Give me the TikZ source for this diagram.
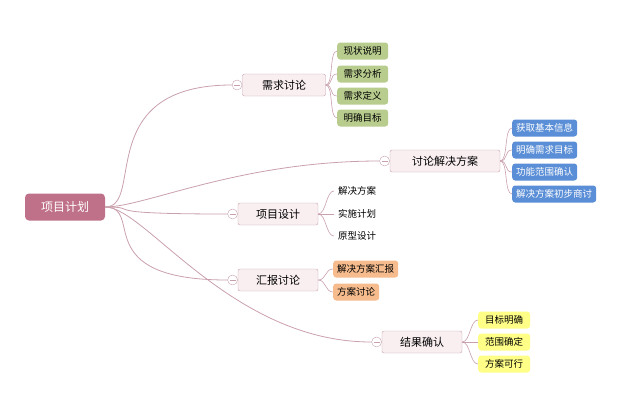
\documentclass[tikz,border=0pt]{standalone}
\usepackage{fontspec}
\usetikzlibrary{positioning,calc}
\newfontfamily\cjk{Noto Sans CJK SC}
\begin{document}
\begin{tikzpicture}[x=1pt,y=-1pt,
 line/.style={draw=lnk,line width=0.8pt},
 rootbox/.style={fill=rootc,rounded corners=4pt,minimum width=80pt,minimum height=27pt,text=white,font=\cjk\fontsize{12}{13}\selectfont},
 mainbox/.style={draw=mbd,fill=mbf,rounded corners=2pt,minimum height=22pt,inner xsep=8pt,font=\cjk\fontsize{11}{12}\selectfont},
 leaf/.style={rounded corners=3pt,minimum height=17pt,inner xsep=4pt,anchor=west,font=\cjk\fontsize{9.5}{10}\selectfont},
 gleaf/.style={leaf,fill=grn,minimum width=51pt},
 bleaf/.style={leaf,fill=blu,text=white},
 pleaf/.style={leaf},
 oleaf/.style={leaf,fill=org},
 yleaf/.style={leaf,fill=yel,minimum width=52pt},
 tog/.style={circle,draw=mbd,fill=white,inner sep=0pt,minimum size=10pt,path picture={\draw[mbd] ([xshift=-3pt]path picture bounding box.center)--([xshift=3pt]path picture bounding box.center);}}]
\definecolor{lnk}{HTML}{C9A0AC}
\definecolor{rootc}{HTML}{C0718A}
\definecolor{mbd}{HTML}{C8A0AA}
\definecolor{mbf}{HTML}{F9EFF1}
\definecolor{grn}{HTML}{B8CC8E}
\definecolor{blu}{HTML}{5A8ED6}
\definecolor{org}{HTML}{F6BC8E}
\definecolor{yel}{HTML}{FFFF88}
\useasboundingbox (0,0) rectangle (640,400);
\node[rootbox] (root) at (65,207) {项目计划};
\node[mainbox,minimum width=83pt] (a) at (284,85) {需求讨论};
\node[mainbox,minimum width=110pt] (b) at (445,161) {讨论解决方案};
\node[mainbox,minimum width=80pt] (c) at (278,214) {项目设计};
\node[mainbox,minimum width=80pt] (d) at (278,280) {汇报讨论};
\node[mainbox,minimum width=80pt] (e) at (422,342) {结果确认};
\foreach \n in {a,b,c,d,e}{
 \node[tog,anchor=east] (t\n) at (\n.west) {};
 \draw[line] (root.east) .. controls ($(root.east)+(40,0)$) and ($(t\n.west)+(-140,0)$) .. (t\n.west);
}
\node[gleaf] (a1) at (337,51) {现状说明};
\node[gleaf] (a2) at (337,74) {需求分析};
\node[gleaf] (a3) at (337,96) {需求定义};
\node[gleaf] (a4) at (337,118) {明确目标};
\node[bleaf] (b1) at (512,128) {获取基本信息};
\node[bleaf] (b2) at (512,150) {明确需求目标};
\node[bleaf] (b3) at (512,172) {功能范围确认};
\node[bleaf] (b4) at (512,194) {解决方案初步商讨};
\node[pleaf] (c1) at (334,191) {解决方案};
\node[pleaf] (c2) at (334,214) {实施计划};
\node[pleaf] (c3) at (334,236) {原型设计};
\node[oleaf] (d1) at (333,269) {解决方案汇报};
\node[oleaf] (d2) at (333,292) {方案讨论};
\node[yleaf] (e1) at (478,320) {目标明确};
\node[yleaf] (e2) at (478,342) {范围确定};
\node[yleaf] (e3) at (478,364) {方案可行};
\foreach \p/\k in {a/a1,a/a2,a/a3,a/a4,b/b1,b/b2,b/b3,b/b4,c/c1,c/c2,c/c3,d/d1,d/d2,e/e1,e/e2,e/e3}{
 \draw[line,line width=0.6pt] (\p.east) .. controls ($(\p.east)+(8,0)$) and ($(\k.west)+(-8,0)$) .. (\k.west);
}
\end{tikzpicture}
\end{document}
